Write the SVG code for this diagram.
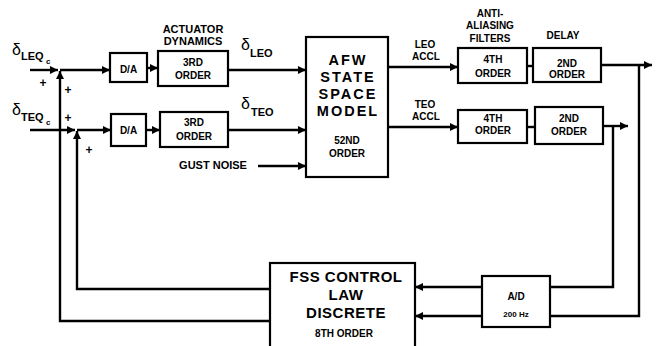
<svg xmlns="http://www.w3.org/2000/svg" width="660" height="346" viewBox="0 0 660 346">
<defs>
<style>
.box{fill:#fff;stroke:#000;stroke-width:2.2}
.ln{fill:none;stroke:#000;stroke-width:2.4}
text{font-family:"Liberation Sans","DejaVu Sans",Arial,sans-serif;font-weight:bold;fill:#000}
.s{font-size:10px;text-anchor:middle}
.m{font-size:11px;text-anchor:middle}
.big{font-size:14.5px;text-anchor:middle;letter-spacing:2px}
.fss{font-size:15px;text-anchor:middle;letter-spacing:0.5px}
.d{font-size:16px;font-weight:normal}
.sub{font-size:11px}
.sub2{font-size:8px}
.pl{font-size:12px;text-anchor:middle}
</style>
<marker id="ah" markerUnits="userSpaceOnUse" markerWidth="9" markerHeight="8" refX="8" refY="4" orient="auto">
<path d="M0,0 L8,4 L0,8 z" fill="#000"/>
</marker>
</defs>
<rect width="660" height="346" fill="#fff"/>

<g id="connectors">
<line class="ln" x1="30" y1="70" x2="58" y2="70" marker-end="url(#ah)"/>
<line class="ln" x1="60" y1="70" x2="110" y2="70" marker-end="url(#ah)"/>
<line class="ln" x1="147" y1="68" x2="158" y2="68" marker-end="url(#ah)"/>
<line class="ln" x1="228" y1="70" x2="306" y2="70" marker-end="url(#ah)"/>
<line class="ln" x1="30" y1="130" x2="75" y2="130" marker-end="url(#ah)"/>
<line class="ln" x1="77" y1="130" x2="111" y2="130" marker-end="url(#ah)"/>
<line class="ln" x1="146" y1="130" x2="160" y2="130" marker-end="url(#ah)"/>
<line class="ln" x1="228" y1="130" x2="306" y2="130" marker-end="url(#ah)"/>
<line class="ln" x1="258" y1="166" x2="306" y2="166" marker-end="url(#ah)"/>
<line class="ln" x1="388" y1="67" x2="458" y2="67" marker-end="url(#ah)"/>
<line class="ln" x1="388" y1="127" x2="458" y2="127" marker-end="url(#ah)"/>
<line class="ln" x1="527" y1="66" x2="533" y2="66"/>
<line class="ln" x1="527" y1="127" x2="535" y2="127"/>
<line class="ln" x1="601" y1="65" x2="652" y2="65" marker-end="url(#ah)"/>
<line class="ln" x1="603" y1="126" x2="628" y2="126" marker-end="url(#ah)"/>
<polyline class="ln" points="639,65 639,316 550,316"/>
<polyline class="ln" points="613,126 613,287 550,287"/>
<line class="ln" x1="482" y1="287" x2="415" y2="287" marker-end="url(#ah)"/>
<line class="ln" x1="482" y1="316" x2="415" y2="316" marker-end="url(#ah)"/>
<polyline class="ln" points="270,289 77,289 77,131" marker-end="url(#ah)"/>
<polyline class="ln" points="270,321 60,321 60,71" marker-end="url(#ah)"/>
</g>

<g id="labels">
<text x="12" y="55" class="d">δ</text>
<text x="21" y="60" class="sub">LEQ</text>
<text x="46" y="64" class="sub2">c</text>
<text x="12" y="115" class="d">δ</text>
<text x="21" y="121" class="sub">TEQ</text>
<text x="46" y="125" class="sub2">c</text>
<text x="43" y="87" class="pl">+</text>
<text x="68" y="94" class="pl">+</text>
<text x="68" y="122" class="pl">+</text>
<text x="89" y="154" class="pl">+</text>
<text x="193" y="33" class="m">ACTUATOR</text>
<text x="193" y="45" class="m">DYNAMICS</text>
<text x="241" y="50" class="d">δ</text>
<text x="250" y="57" class="sub">LEO</text>
<text x="241" y="109" class="d">δ</text>
<text x="251" y="116" class="sub">TEO</text>
<text x="213" y="169" class="m">GUST NOISE</text>
<text x="425" y="48" class="s">LEO</text>
<text x="426" y="60" class="s">ACCL</text>
<text x="425" y="108" class="s">TEO</text>
<text x="426" y="120" class="s">ACCL</text>
<text x="490" y="17" class="s">ANTI-</text>
<text x="490" y="29" class="s">ALIASING</text>
<text x="490" y="42" class="s">FILTERS</text>
<text x="563" y="39" class="s">DELAY</text>
</g>

<g id="da-top"><rect class="box" x="110" y="53" width="37" height="29"/><text x="128.5" y="73" class="s">D/A</text></g>
<g id="act-top"><rect class="box" x="158" y="51" width="70" height="35"/><text x="193" y="66" class="s">3RD</text><text x="193" y="79" class="s">ORDER</text></g>
<g id="da-bot"><rect class="box" x="111" y="114" width="35" height="32"/><text x="128.5" y="134" class="s">D/A</text></g>
<g id="act-bot"><rect class="box" x="160" y="112" width="68" height="35"/><text x="194" y="126" class="s">3RD</text><text x="194" y="140" class="s">ORDER</text></g>
<g id="afw"><rect class="box" x="306" y="37" width="82" height="140"/>
<text x="348" y="65" class="big">AFW</text><text x="348" y="82" class="big">STATE</text><text x="348" y="99" class="big">SPACE</text><text x="348" y="116" class="big">MODEL</text>
<text x="347" y="144" class="s">52ND</text><text x="347" y="157" class="s">ORDER</text></g>
<g id="aa-top"><rect class="box" x="458" y="48" width="69" height="35"/><text x="493" y="63" class="s">4TH</text><text x="493" y="77" class="s">ORDER</text></g>
<g id="dl-top"><rect class="box" x="533" y="48" width="68" height="34"/><text x="567" y="67" class="s">2ND</text><text x="567" y="78" class="s">ORDER</text></g>
<g id="aa-bot"><rect class="box" x="458" y="110" width="69" height="33"/><text x="493" y="122" class="s">4TH</text><text x="493" y="134" class="s">ORDER</text></g>
<g id="dl-bot"><rect class="box" x="535" y="107" width="68" height="37"/><text x="569" y="122" class="s">2ND</text><text x="569" y="135" class="s">ORDER</text></g>
<g id="ad"><rect class="box" x="482" y="276" width="68" height="51"/><text x="516" y="300" class="s">A/D</text><text x="516" y="317" class="s" style="font-size:8px">200 Hz</text></g>
<g id="fss"><rect class="box" x="270" y="263" width="145" height="90"/>
<text x="346" y="282" class="fss">FSS CONTROL</text><text x="346" y="300" class="fss">LAW</text><text x="346" y="318" class="fss">DISCRETE</text><text x="344" y="337" class="s">8TH ORDER</text></g>
</svg>
